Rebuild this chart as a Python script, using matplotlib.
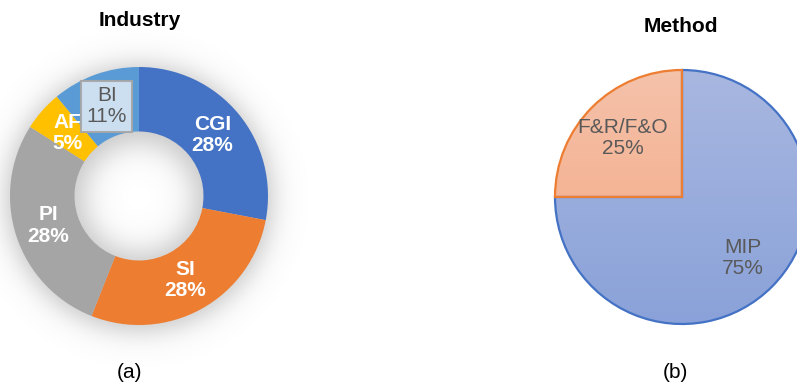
import matplotlib.pyplot as plt
import numpy as np
from matplotlib.colors import LinearSegmentedColormap

plt.rcParams["font.family"] = ["Liberation Sans", "DejaVu Sans"]

# industry split (donut)
industry = ["CGI", "SI", "PI", "AF", "BI"]
industry_pct = [28, 28, 28, 5, 11]
industry_colors = ["#4472C4", "#ED7D31", "#A5A5A5", "#FFC000", "#5B9BD5"]

# method split (pie)
method = ["MIP", "F&R/F&O"]
method_pct = [75, 25]
method_edges = ["#4472C4", "#ED7D31"]
method_grad = [("#A8B7E0", "#8AA2D9"), ("#F5C2AA", "#F4A580")]

W, H = 797, 386
fig = plt.figure(figsize=(W / 100, H / 100), dpi=100)


def pixel_axes(x0, y0, x1, y1, cx, cy, r):
    # axes over a pixel box (top-left origin), data unit = radius r in pixels
    ax = fig.add_axes([x0 / W, 1 - y1 / H, (x1 - x0) / W, (y1 - y0) / H])
    lims = ((x0 - cx) / r, (x1 - cx) / r), ((cy - y1) / r, (cy - y0) / r)
    ax.axis("off")
    return ax, lims


# ---- (a) donut ----
ax1, lims1 = pixel_axes(0, 40, 290, 350, 139, 196, 129)

# soft shadow around and inside the ring
g = np.linspace(-1.4, 1.4, 500)
gx, gy = np.meshgrid(g, g)
rr = np.hypot(gx, gy + 0.015)
inner = 1 / (1 + np.exp(-(rr - 0.42) / 0.07))
outer = 1 / (1 + np.exp(-(1.03 - rr) / 0.06))
shadow = np.zeros(rr.shape + (4,))
shadow[..., :3] = 0.5
shadow[..., 3] = 0.45 * inner * outer
sh = ax1.imshow(shadow, extent=(-1.4, 1.4, -1.4, 1.4), origin="lower", zorder=0,
                interpolation="bilinear")
sh.set_clip_on(False)

wedges, _ = ax1.pie(industry_pct, colors=industry_colors, startangle=90, counterclock=False,
                    radius=1.0, wedgeprops=dict(width=0.5, edgecolor="none"))
for wd in wedges:
    wd.set_zorder(1)
ax1.set_xlim(*lims1[0])
ax1.set_ylim(*lims1[1])

for wd, name, pct in zip(wedges, industry, industry_pct):
    mid = np.deg2rad((wd.theta1 + wd.theta2) / 2)
    x, y = 0.74 * np.cos(mid), 0.74 * np.sin(mid)
    if name == "BI":
        ax1.text(x, y, f"{name}\n{pct}%", ha="center", va="center", fontsize=15,
                 color="#595959", linespacing=1.15, zorder=5,
                 bbox=dict(boxstyle="square,pad=0.25", facecolor="#D6E5F4", edgecolor="#A6A6A6",
                           linewidth=1.5, alpha=0.93))
    else:
        ax1.text(x, y, f"{name}\n{pct}%", ha="center", va="center", fontsize=15,
                 color="white", fontweight="bold", linespacing=1.15, zorder=4)

# ---- (b) pie ----
ax2, lims2 = pixel_axes(540, 40, 797, 350, 682, 197, 127)
pw, _ = ax2.pie(method_pct, startangle=90, counterclock=False, radius=1.0,
                wedgeprops=dict(facecolor="none", linewidth=0))
ax2.set_xlim(*lims2[0])
ax2.set_ylim(*lims2[1])

grad = np.linspace(0, 1, 256).reshape(-1, 1)
for wd, (top, bot), edge in zip(pw, method_grad, method_edges):
    cmap = LinearSegmentedColormap.from_list("g", [bot, top])
    im = ax2.imshow(grad, cmap=cmap, extent=(-1, 1, -1, 1), origin="lower", aspect="auto", zorder=1)
    im.set_clip_path(wd)
    wd.set_edgecolor(edge)
    wd.set_linewidth(1.6)
    wd.set_zorder(2)

for wd, name, pct, rad in zip(pw, method, method_pct, [0.68, 0.66]):
    mid = np.deg2rad((wd.theta1 + wd.theta2) / 2)
    ax2.text(rad * np.cos(mid), rad * np.sin(mid), f"{name}\n{pct}%", ha="center", va="center",
             fontsize=15, color="#595959", linespacing=1.15, zorder=4)

# titles and panel tags
fig.text(140 / W, 1 - 21 / H, "Industry", ha="center", va="center", fontsize=15, fontweight="bold")
fig.text(681 / W, 1 - 26 / H, "Method", ha="center", va="center", fontsize=15, fontweight="bold")
fig.text(130 / W, 1 - 373 / H, "(a)", ha="center", va="center", fontsize=15)
fig.text(675 / W, 1 - 373 / H, "(b)", ha="center", va="center", fontsize=15)

plt.savefig("out.png", dpi=100)
plt.close()
